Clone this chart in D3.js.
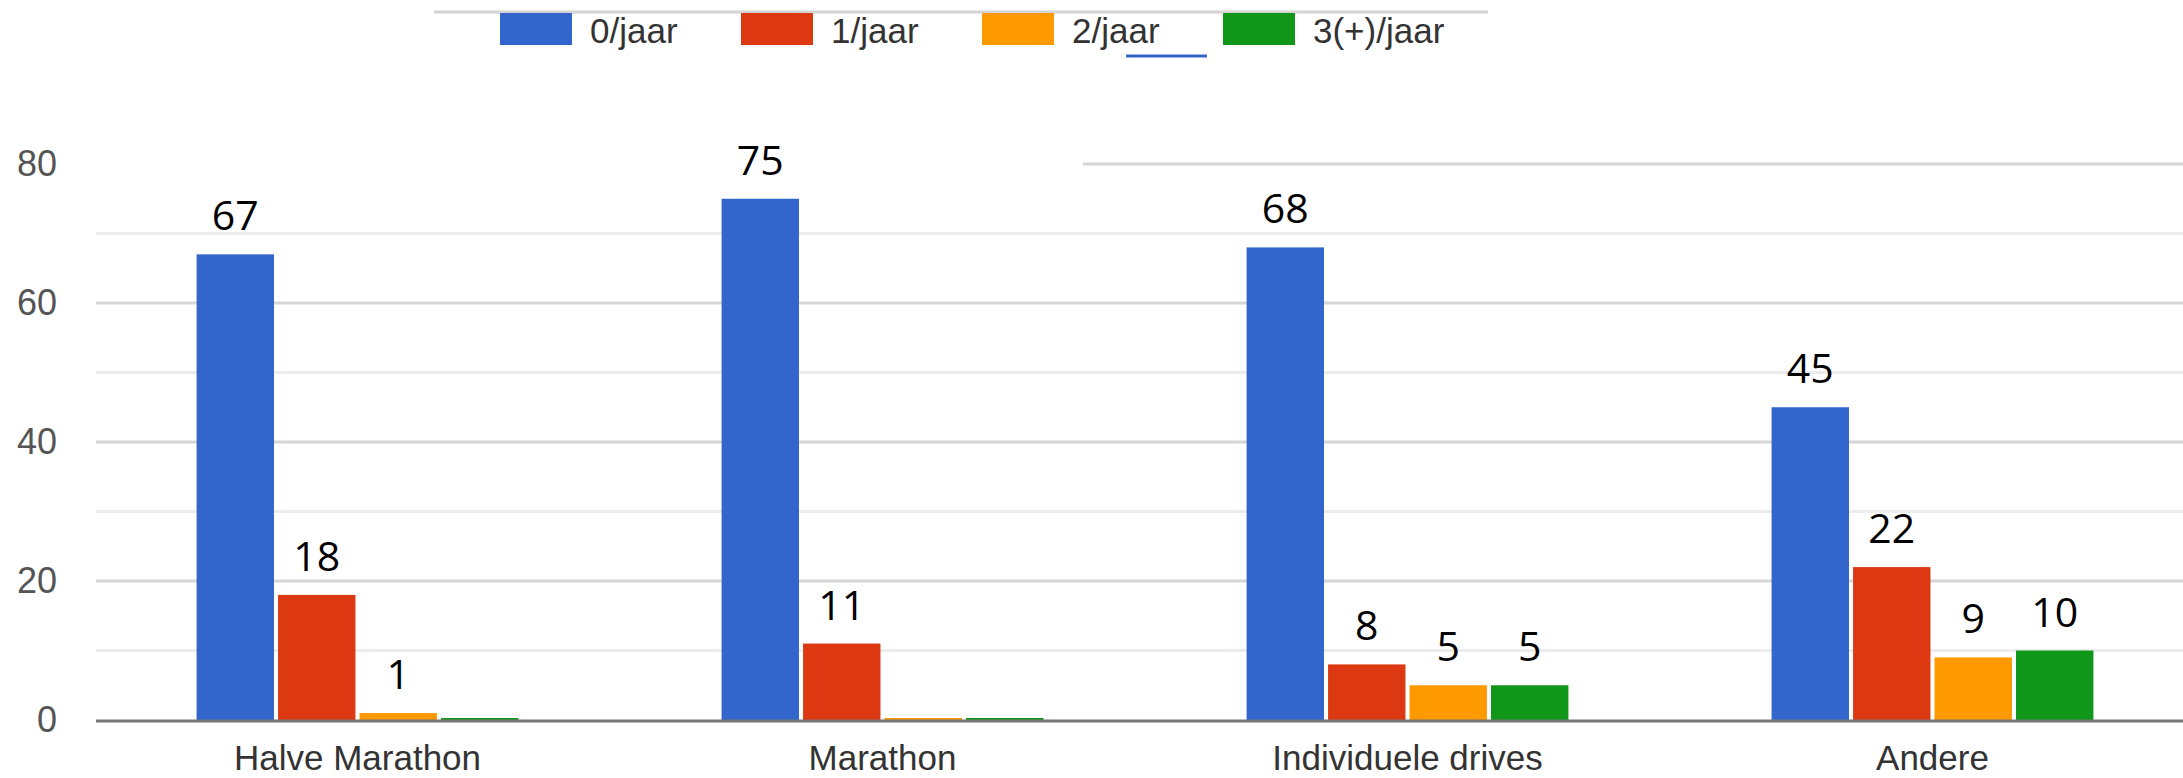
<!DOCTYPE html>
<html>
  <head>
    <meta charset="utf-8">
    <title>Deelname per jaar</title>
    <script src="https://cdn.jsdelivr.net/npm/d3@7"></script>
    <style type="text/css">
        body { margin: 0; background: #fff; }
        svg { display: block; font-family: "Liberation Sans", Arial, sans-serif; }
    </style>
  </head>
  <body>
    <div id="viz"></div>
    <script type="text/javascript">

    // data
    var categories = ["Halve Marathon", "Marathon", "Individuele drives", "Andere"];
    var seriesNames = ["0/jaar", "1/jaar", "2/jaar", "3(+)/jaar"];
    var perJaar0 = [67, 75, 68, 45];
    var perJaar1 = [18, 11, 8, 22];
    var perJaar2 = [1, 0, 5, 9];
    var perJaar3 = [0, 0, 5, 10];
    var yTicks = [0, 20, 40, 60, 80];
    var yMinor = [10, 30, 50, 70];

    var seriesValues = [perJaar0, perJaar1, perJaar2, perJaar3];
    var colors = ["#3366cc", "#dc3912", "#ff9900", "#109618"];

    var width = 2183, height = 778;
    var svg = d3.select("#viz").append("svg")
        .attr("width", width)
        .attr("height", height);

    var x0 = d3.scaleBand()
        .domain(categories)
        .range([95, 2195])
        .paddingInner(0.387)
        .paddingOuter(0.1935);

    var x1 = d3.scaleBand()
        .domain(seriesNames)
        .range([0, x0.bandwidth()])
        .paddingInner(0.05);

    var y = d3.scaleLinear()
        .domain([0, 80])
        .range([720, 164]);

    // minor gridlines
    svg.append("g")
        .selectAll("line")
        .data(yMinor)
        .enter().append("line")
        .attr("x1", 96).attr("x2", width)
        .attr("y1", function(d) { return y(d); })
        .attr("y2", function(d) { return y(d); })
        .style("stroke", "#ececec")
        .style("stroke-width", 3);

    // major gridlines (top one is cut off at the left in the original)
    svg.append("g")
        .selectAll("line")
        .data(yTicks.filter(function(d) { return d > 0; }))
        .enter().append("line")
        .attr("x1", function(d) { return d === 80 ? 1083 : 96; })
        .attr("x2", width)
        .attr("y1", function(d) { return y(d); })
        .attr("y2", function(d) { return y(d); })
        .style("stroke", "#d6d6d6")
        .style("stroke-width", 3);

    // y axis labels
    var yAxis = svg.append("g")
        .attr("transform", "translate(57,0)")
        .call(d3.axisLeft(y).tickValues(yTicks).tickSize(0).tickPadding(0));
    yAxis.select(".domain").remove();
    yAxis.selectAll("text")
        .style("font-family", "'Liberation Sans', Arial, sans-serif")
        .style("font-size", "36px")
        .style("fill", "#555");

    // bars
    var groups = svg.append("g")
        .selectAll("g")
        .data(categories)
        .enter().append("g")
        .attr("transform", function(d) { return "translate(" + x0(d) + ",0)"; });

    var cells = groups.selectAll("g")
        .data(function(c, i) {
            return seriesNames.map(function(s, k) {
                return { series: s, value: seriesValues[k][i], color: colors[k] };
            });
        })
        .enter().append("g");

    cells.append("rect")
        .attr("x", function(d) { return x1(d.series); })
        .attr("width", x1.bandwidth())
        .attr("y", function(d) { return d.value === 0 ? y(0) - 2 : y(d.value); })
        .attr("height", function(d) { return d.value === 0 ? 2 : y(0) - y(d.value); })
        .style("fill", function(d) { return d.color; });

    cells.filter(function(d) { return d.value > 0; })
        .append("text")
        .attr("x", function(d) { return x1(d.series) + x1.bandwidth() / 2; })
        .attr("y", function(d) { return y(d.value) - 24; })
        .attr("text-anchor", "middle")
        .style("font-family", "'Open Sans', 'DejaVu Sans', sans-serif")
        .style("font-size", "41px")
        .style("fill", "#000")
        .text(function(d) { return d.value; });

    // baseline
    svg.append("line")
        .attr("x1", 96).attr("x2", width)
        .attr("y1", y(0) + 1).attr("y2", y(0) + 1)
        .style("stroke", "#777")
        .style("stroke-width", 3);

    // category axis
    var xAxis = svg.append("g")
        .attr("transform", "translate(0,770)")
        .call(d3.axisBottom(x0).tickSize(0).tickPadding(0));
    xAxis.select(".domain").remove();
    xAxis.selectAll("text")
        .attr("dy", 0)
        .style("font-family", "'Liberation Sans', Arial, sans-serif")
        .style("font-size", "35px")
        .style("fill", "#333");

    // legend
    svg.append("line")
        .attr("x1", 434).attr("x2", 1488)
        .attr("y1", 12).attr("y2", 12)
        .style("stroke", "#d4d4d4")
        .style("stroke-width", 3);

    var legend = svg.append("g")
        .selectAll("g")
        .data(seriesNames)
        .enter().append("g")
        .attr("transform", function(d, i) { return "translate(" + (500 + i * 241) + ",0)"; });

    legend.append("rect")
        .attr("x", 0).attr("y", 13)
        .attr("width", 72).attr("height", 32)
        .style("fill", function(d, i) { return colors[i]; });

    legend.append("text")
        .attr("x", 90).attr("y", 43)
        .style("font-size", "35px")
        .style("fill", "#333")
        .text(function(d) { return d; });

    // stray underline under "2/jaar" in the original screenshot
    svg.append("line")
        .attr("x1", 1126).attr("x2", 1207)
        .attr("y1", 56).attr("y2", 56)
        .style("stroke", "#3366cc")
        .style("stroke-width", 3);

    </script>
  </body>
</html>
